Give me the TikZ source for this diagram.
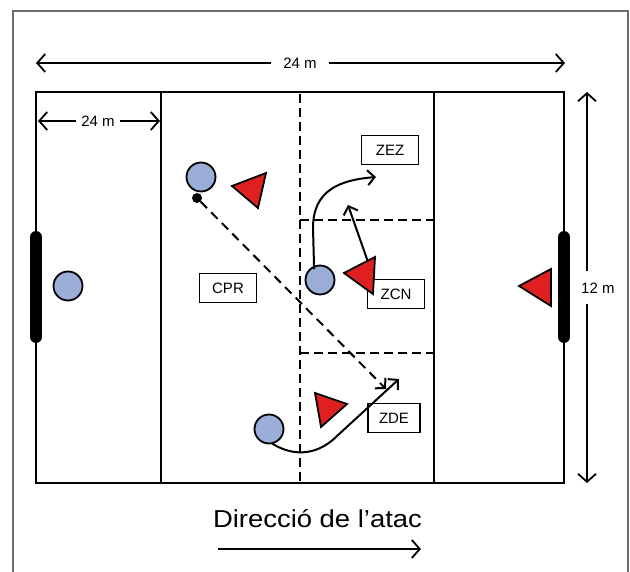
\documentclass[tikz,border=0pt]{standalone}
\usepackage{fontspec}
\setmainfont{Liberation Sans}
\usetikzlibrary{arrows.meta}
\definecolor{pblue}{HTML}{9BAED8}
\definecolor{pred}{HTML}{E02020}
\definecolor{framegray}{HTML}{6E6E6E}
\begin{document}
\begin{tikzpicture}[x=1pt,y=-1pt,
  fieldline/.style={line width=2.2pt},
  dashline/.style={line width=2.2pt,dash pattern=on 9pt off 5pt},
  dimarrow/.style={line width=1.8pt,-{Straight Barb[length=8pt,width=18pt,line width=1.8pt]}},
  movearrow/.style={line width=2pt,-{Straight Barb[length=7pt,width=15pt,line width=2pt]}},
  dimlabel/.style={fill=white,inner sep=3pt,font=\fontsize{15}{17}\selectfont},
  zonebox/.style={draw,line width=1.2pt,fill=white,minimum width=57pt,minimum height=29pt,inner sep=0pt,font=\fontsize{15}{17}\selectfont},
  player/.style={circle,draw,line width=1.8pt,fill=pblue,minimum size=29pt,inner sep=0pt},
  opp/.style={draw,line width=1.8pt,fill=pred,line join=miter},
  goal/.style={line width=12pt,line cap=round}
]
\useasboundingbox (0,0) rectangle (630,572);
% outer frame
\draw[framegray,line width=1.5pt] (13,580) -- (13,11) -- (628,11) -- (628,580);
% field
\draw[fieldline] (36,92) rectangle (564,483);
\draw[fieldline] (161,92) -- (161,483);
\draw[fieldline] (434,92) -- (434,483);
\draw[dashline] (300,94) -- (300,483);
\draw[dashline] (300,220) -- (434,220);
\draw[dashline] (300,353) -- (434,353);
% goals
\draw[goal] (36,237) -- (36,337);
\draw[goal] (564,237) -- (564,337);
% dimension arrows
\node[dimlabel,inner xsep=12pt] (top24) at (300,63) {24 m};
\coordinate (topL) at (36,63);
\coordinate (topR) at (565,63);
\draw[dimarrow] (top24) -- (topL);
\draw[dimarrow] (top24) -- (topR);
\node[dimlabel,inner xsep=5pt] (small24) at (98,121) {24 m};
\coordinate (smallL) at (38,121);
\coordinate (smallR) at (160,121);
\draw[dimarrow] (small24) -- (smallL);
\draw[dimarrow] (small24) -- (smallR);
\node[dimlabel,anchor=west,inner sep=1pt] (side12) at (580,288) {12 m};
\coordinate (sideT) at (587,92);
\coordinate (sideB) at (587,483);
\draw[dimarrow] (587,271) -- (sideT);
\draw[dimarrow] (587,304) -- (sideB);
% zone labels
\node[zonebox] (zez) at (390,150) {ZEZ};
\node[zonebox] (cpr) at (228,288) {CPR};
\node[zonebox] (zcn) at (396,294) {ZCN};
\node[zonebox,minimum width=52pt] (zde) at (394,418) {ZDE};
% players
\node[player] (p1) at (68,286) {};
\node[player] (p2) at (201,177) {};
\node[player] (p3) at (320,280) {};
\node[player] (p4) at (269,429) {};
\node[circle,fill=black,minimum size=10pt,inner sep=0pt] (ball) at (197,198) {};
% movements
\coordinate (passEnd) at (386,389);
\draw[line width=2pt,dash pattern=on 9pt off 6pt,-{Straight Barb[length=7pt,width=15pt,line width=2pt]}] (ball) -- (passEnd);
\coordinate (runEnd) at (376,177);
\draw[movearrow] (p3.north west) ++(5,0) -- (313,228) .. controls (313,190) and (340,180) .. (runEnd);
\coordinate (oppRunEnd) at (348,205);
\draw[movearrow] (368,262) -- (oppRunEnd);
\coordinate (dribEnd) at (399,379);
\draw[movearrow] (p4.south) ++(3,-1) .. controls (290,455) and (315,458) .. (337,436) -- (dribEnd);
% opponents
\draw[opp] (232,186) -- (266,173) -- (258,208) -- cycle;
\draw[opp] (344,273) -- (375,257) -- (373,294) -- cycle;
\draw[opp] (315,393) -- (347,404) -- (321,427) -- cycle;
\draw[opp] (519,286) -- (551,269) -- (551,306) -- cycle;
% direction
\node[anchor=base,inner sep=0pt,font=\fontsize{24.5}{28}\selectfont] (dir) at (317.5,527) {\scalebox{1.12}[1]{Direcció de l’atac}};
\coordinate (dirS) at (218,549);
\coordinate (dirE) at (421,549);
\draw[line width=1.8pt,-{Straight Barb[length=8pt,width=18pt,line width=1.8pt]}] (dirS) -- (dirE);
\end{tikzpicture}
\end{document}
